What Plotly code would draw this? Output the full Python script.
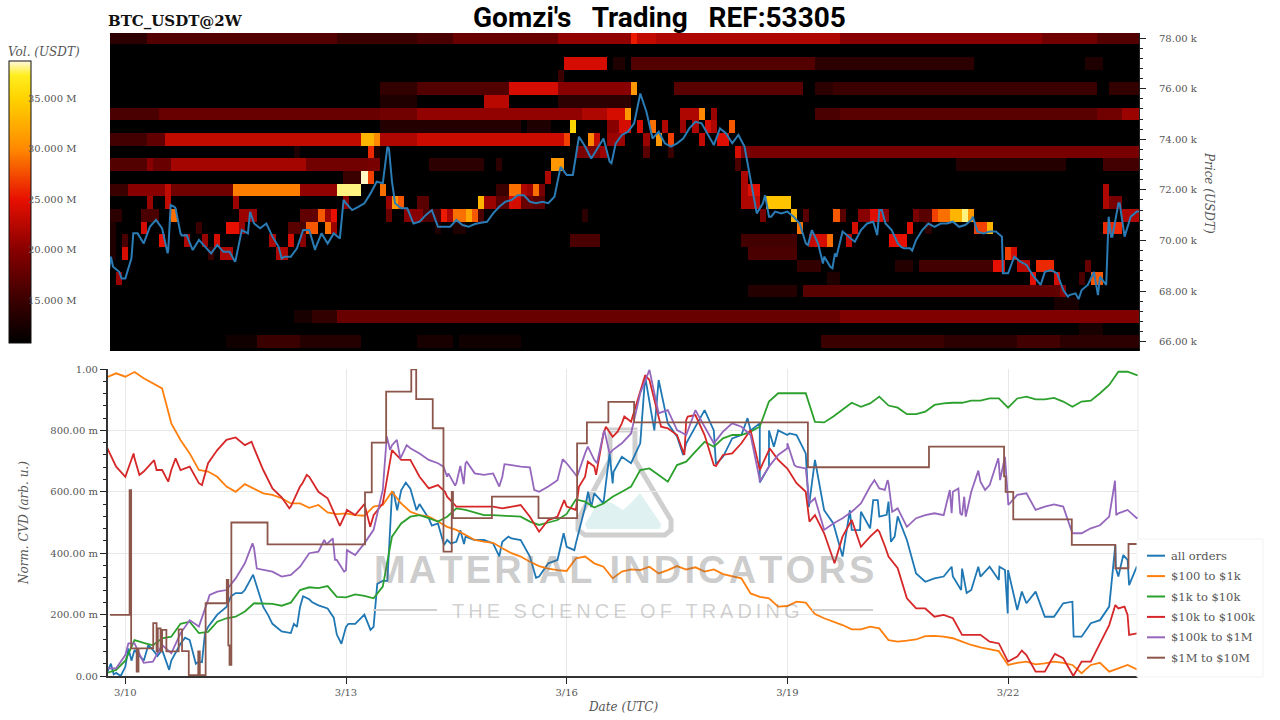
# BTC_USDT order book heatmap with normalized CVD per order size
import numpy as np
import pandas as pd
import plotly.graph_objects as go

WIDTH = 1280
HEIGHT = 720
START = pd.Timestamp("2024-03-10")

# x positions are hours since START
HEAT_HOURS = [-4 + 2 * i for i in range(168)]
HEAT_PRICES = [78 - 0.5 * i for i in range(26)]
Z_FLOOR = 10.8
Z_CEIL = 38.7

# order walls, (from hour, to hour, volume in M USDT)
ROW_780 = [(-5, 7, 14), (7, 70, 16.5), (70, 96, 15), (96, 108, 16), (108, 142, 18), (142, 166, 20.5),
           (166, 168, 25.5), (168, 174, 23), (174, 233, 22), (233, 300, 20), (300, 318, 18.5), (318, 331, 16.5)]
ROW_770 = [(144, 158, 24), (160, 164, 13), (166, 226, 16.5), (226, 277, 14), (313, 320, 13)]
ROW_765 = [(142, 144, 15)]
ROW_760 = [(84, 96, 14.5), (96, 126, 16.5), (126, 142, 24), (142, 166, 20), (166, 168, 31), (180, 222, 17),
           (226, 232, 14), (232, 318, 15), (322, 331, 14.5)]
ROW_755 = [(84, 96, 13), (118, 126, 22.5), (142, 166, 14)]
ROW_750 = [(-5, 11, 16), (11, 84, 18), (84, 96, 18.5), (96, 150, 20.5), (150, 158, 22), (158, 164, 24),
           (164, 166, 31), (182, 188, 22), (188, 190, 30), (192, 194, 21), (226, 233, 16), (233, 318, 17),
           (318, 325, 18.5), (325, 331, 21)]
ROW_745 = [(84, 130, 13.5), (132, 140, 13), (146, 148, 35), (158, 162, 20), (162, 166, 24), (168, 170, 24),
           (172, 174, 29), (176, 178, 22), (182, 184, 21), (186, 188, 22), (190, 192, 24), (192, 194, 22),
           (198, 200, 28)]
ROW_740 = [(-5, 7, 15.5), (7, 13, 17.5), (13, 78, 23), (78, 82, 33), (82, 84, 30), (84, 96, 22), (96, 144, 23.5),
           (144, 146, 27), (152, 154, 30), (154, 156, 23), (158, 164, 21), (170, 172, 21), (174, 176, 31),
           (178, 180, 27), (188, 190, 23), (194, 198, 24.5)]
ROW_735 = [(55, 57, 13), (80, 82, 26), (82, 84, 13), (148, 156, 19), (156, 158, 21), (170, 172, 17), (178, 180, 15),
           (200, 202, 24), (202, 331, 19)]
ROW_730 = [(-5, 7, 16.5), (7, 9, 20), (9, 15, 18), (15, 60, 21.5), (60, 80, 18.5), (80, 84, 19), (99, 118, 14),
           (122, 124, 14), (140, 144, 31), (200, 202, 16), (271, 308, 13.5), (319, 331, 15.5)]
ROW_725 = [(72, 78, 15), (78, 80, 38.5), (80, 82, 27), (138, 140, 22), (202, 204, 22)]
ROW_720 = [(-5, 1, 15), (1, 13, 20), (13, 15, 23), (15, 36, 18.5), (36, 58, 29.5), (58, 70, 20.5), (70, 78, 38),
           (84, 86, 29), (122, 126, 15), (126, 130, 29), (130, 132, 22), (132, 134, 21), (134, 136, 29),
           (136, 138, 19), (202, 204, 22), (204, 208, 24.5), (320, 322, 22)]
ROW_715 = [(7, 9, 21), (13, 15, 23), (36, 38, 21), (72, 74, 20), (86, 88, 21), (88, 90, 31), (90, 92, 28),
           (96, 100, 17), (116, 118, 33), (118, 122, 21), (122, 126, 17), (126, 130, 24), (130, 134, 18),
           (134, 138, 17), (202, 206, 22), (206, 208, 23), (210, 218, 34), (320, 322, 22), (322, 326, 19)]
ROW_710 = [(-5, -1, 14), (5, 11, 16), (15, 17, 29), (38, 44, 21), (58, 64, 17.5), (64, 66, 28), (66, 68, 21),
           (68, 70, 25), (86, 88, 18), (92, 98, 20), (98, 104, 16), (104, 106, 25.5), (106, 108, 22),
           (108, 112, 29), (112, 114, 32), (114, 116, 28), (116, 118, 16), (150, 152, 14), (208, 210, 19),
           (218, 220, 33), (222, 224, 17), (232, 234, 28), (234, 236, 17), (240, 244, 20), (244, 248, 24.5),
           (248, 250, 20), (258, 260, 19), (260, 264, 17), (264, 266, 27), (266, 270, 29), (270, 274, 33),
           (274, 276, 38), (276, 278, 31), (326, 331, 22)]
ROW_705 = [(-5, -3, 13), (5, 7, 24), (23, 25, 15), (34, 38, 25), (38, 40, 21), (54, 58, 17), (58, 60, 16),
           (60, 64, 28), (66, 68, 29), (68, 70, 21), (102, 104, 13), (108, 112, 13), (220, 222, 29), (238, 240, 24),
           (256, 258, 24.5), (262, 264, 14), (278, 282, 27), (282, 284, 33), (319, 325, 26)]
ROW_700 = [(-5, -3, 13), (-1, 1, 16), (11, 13, 25), (19, 21, 22), (25, 27, 21), (29, 31, 24), (47, 49, 22),
           (53, 55, 24), (58, 60, 20), (146, 156, 16), (202, 219, 15.5), (224, 226, 23), (226, 230, 24),
           (230, 232, 29), (236, 238, 23), (250, 256, 25)]
ROW_695 = [(-5, -3, 13), (-1, 1, 24), (27, 29, 15), (31, 35, 22), (49, 53, 22), (204, 219, 16), (287, 289, 27),
           (289, 291, 24)]
ROW_690 = [(219, 227, 14.5), (252, 258, 13.5), (260, 283, 15.5), (283, 287, 25), (291, 295, 22.5), (297, 303, 26),
           (313, 315, 18)]
ROW_685 = [(-3, -1, 21), (229, 233, 13), (295, 297, 25), (303, 305, 24), (311, 313, 16), (315, 319, 28)]
ROW_680 = [(204, 219, 13.5), (222, 234, 17), (234, 305, 17.5), (305, 307, 20)]
ROW_675 = [(303, 311, 12.5)]
ROW_670 = [(56, 62, 12.5), (62, 70, 14.5), (70, 234, 18), (234, 331, 19.5)]
ROW_665 = [(311, 319, 12.5)]
ROW_660 = [(33, 43, 12), (43, 57, 15), (57, 77, 13.5), (96, 107, 12.5), (109, 130, 12), (227, 268, 15),
           (268, 292, 14), (292, 305, 15.5), (305, 331, 14)]

VOL_TICKS = [15, 20, 25, 30, 35]
VOL_LABELS = ["15.000 M", "20.000 M", "25.000 M", "30.000 M", "35.000 M"]
PRICE_TICKS = [66, 68, 70, 72, 74, 76, 78]
PRICE_LABELS = ["66.00 k", "68.00 k", "70.00 k", "72.00 k", "74.00 k", "76.00 k", "78.00 k"]
CVD_TICKS = [0, 0.2, 0.4, 0.6, 0.8, 1.0]
CVD_LABELS = ["0.00", "200.00 m", "400.00 m", "600.00 m", "800.00 m", "1.00"]
DATE_TICKS = ["2024-03-10", "2024-03-13", "2024-03-16", "2024-03-19", "2024-03-22"]
DATE_LABELS = ["3/10", "3/13", "3/16", "3/19", "3/22"]

# price line, every 2 hours from hour -6
PRICE = [68.24, 68.96, 68.76, 68.50, 69.29, 70.28, 69.88, 70.54, 70.81, 70.48, 69.62, 71.33, 70.28, 70.21, 69.62,
         70.02, 69.75, 69.49, 69.82, 69.55, 69.55, 69.23, 70.41, 70.28, 70.67, 70.48, 70.67, 70.15, 69.75, 69.36,
         69.36, 69.69, 70.41, 70.41, 69.69, 70.28, 69.88, 70.28, 70.08, 71.47, 71.20, 71.33, 71.47, 71.86, 72.32,
         72.26, 73.64, 71.47, 71.27, 71.27, 70.67, 70.74, 71.00, 71.20, 70.54, 70.54, 70.54, 70.81, 70.61, 70.54,
         70.65, 70.70, 70.74, 71.07, 71.33, 71.53, 71.60, 71.79, 71.79, 71.53, 71.47, 71.53, 71.47, 71.73, 72.91,
         72.59, 72.59, 74.10, 73.71, 73.24, 73.64, 74.03, 73.11, 73.84, 74.17, 74.30, 74.63, 75.81, 75.09, 74.03,
         74.30, 73.84, 73.71, 73.84, 74.03, 74.43, 74.69, 74.63, 74.17, 73.77, 74.43, 74.23, 73.84, 74.17, 73.71,
         72.32, 71.07, 71.47, 70.94, 71.14, 71.07, 71.14, 70.94, 70.67, 69.88, 70.41, 69.88, 69.36, 68.96, 69.36,
         70.35, 70.15, 69.95, 70.41, 70.67, 70.74, 71.20, 70.67, 70.41, 69.88, 69.69, 69.69, 70.02, 70.41, 70.67,
         70.54, 70.67, 70.67, 70.74, 70.54, 70.61, 70.81, 70.35, 70.28, 70.35, 70.35, 70.15, 68.70, 69.36, 69.16,
         69.03, 68.63, 68.30, 68.76, 68.83, 68.70, 68.04, 67.84, 67.91, 68.04, 68.24, 68.76, 68.57, 68.24, 70.15,
         71.47, 70.15, 70.94, 71.14, 71.14]
# off-grid readings for the sharp moves
PRICE_X = [-4.7, -1.2, 2.6, 13.8, 14.8, 16.4, 18.4, 35.8, 40.7, 51, 61.9, 71.2, 85.5, 87, 158.6, 205.8, 208.7,
           210.7, 222.7, 227.6, 230.7, 231.5, 245.3, 246.8, 253, 256.7, 276.5, 286.3, 298.6, 307.5, 311, 317.3,
           320.8, 321.6, 324.4, 325.9]
PRICE_Y = [69.36, 68.5, 70.28, 69.49, 71.4, 71.27, 70.2, 69.16, 71.13, 69.29, 69.62, 71.6, 73.7, 72.32, 73.05,
           71.07, 71.79, 70.94, 69.82, 69.09, 68.9, 69.49, 70.21, 71.2, 69.75, 69.6, 70.94, 68.7, 68.24, 67.78,
           67.68, 67.84, 70.94, 70.15, 71.47, 70.2]

# normalized CVD, every 3 hours from hour -6
ALL_ORDERS = [.01, .01, .03, .085, .05, .085, .085, .05, .105, .117, .047, .16, .2, .225, .27, .28, .32, .225, .17,
              .145, .14, .225, .25, .23, .22, .135, .16, .17, .2, .16, .31, .595, .605, .61, .56,
              .513, .497, .443, .437, .454, .443, .443, .432, .437, .448, .443, .389, .324, .367, .378, .421, .432,
              .55, .595, .562, .627, .714, .693, .758, .888, .964, .823, .78, .758, .812, .866, .8, .714, .774,
              .785, .8, .823, .682, .8, .785, .785, .725, .704, .54, .497, .389,
              .476, .535, .481, .519, .568, .52, .443, .334, .307, .318, .324, .324, .35, .28, .324, .356, .313,
              .345, .215, .237, .275, .193, .193, .237, .242, .128, .172, .182, .226, .324, .378, .356, .313, .324]
ALL_ORDERS_X = [-4.7, -3.8, -1.5, 1, 2, 7.5, 10.5, 14.3, 19.5, 23, 25, 26, 34.5, 38, 41.7, 46.5, 55, 56, 58, 61,
                68, 70.5, 72.8, 80, 82.2, 85.5, 87.5, 88.7, 91.5, 95, 100, 104, 106.2, 109.3, 110.5, 122, 125, 134,
                143, 146.5, 151, 152, 158, 159.3, 169.6, 172.6, 182, 192.7, 203, 207, 210, 211.6, 216.7, 223,
                236.4, 239.7, 244, 245.5, 248.4, 249.8, 251, 269.6, 272.7, 274.5, 278.3, 285.2, 287, 287.9, 292.5,
                309.4, 323, 323.2, 325.6, 327.5]
ALL_ORDERS_Y = [.04, .005, 0, .09, .05, .1, .065, .02, .125, .04, .045, .14, .26, .27, .33, .2, .17, .16, .26, .24,
                .19, .105, .17, .15, .3, .31, .6, .54, .63, .54, .49, .427, .432, .475, .43, .39, .454, .32,
                .465, .41, .6, .55, .725, .665, .975, .8, .72, .69, .84, .63, .8, .747, .79, .55,
                .54, .475, .573, .573, .525, .437, .454, .356, .28, .27, .356, .356, .345, .204, .275,
                .128, .427, .35, .394, .296]

USD_100_1K = [.973, .986, .975, .99, .97, .953, .937, .823, .769, .725, .671, .666, .649, .617, .6, .625, .611, .595,
              .59, .579, .562, .562, .548, .557, .533, .527, .53, .524, .522, .552, .557, .6, .562, .535, .524,
              .519, .503, .486, .476, .459, .443, .438, .434, .416, .4, .389, .372, .358, .35, .345, .342, .383,
              .389, .367, .356, .318, .34, .347, .345, .356, .334, .345, .358, .347, .354, .34, .347, .332, .324,
              .318, .269, .258, .253, .226, .228, .242, .239, .202, .188, .177,
              .166, .152, .152, .161, .155, .117, .112, .115, .119, .13, .131, .128, .123, .112, .101, .093, .087,
              .081, .036, .043, .047, .038, .041, .047, .043, .036, .009, .036, .043, .014, .025, .036, .022, .025]
USD_1K_10K = [.01, .02, .05, .117, .108, .1, .123, .128, .17, .177, .14, .144, .177, .188, .193, .21, .237, .237,
              .235, .229, .239, .28, .289, .286, .293, .258, .256, .266, .261, .253, .291, .454, .497, .519, .524,
              .514, .503, .519, .546, .541, .532, .524, .524, .522, .521, .519, .503, .492, .5, .508, .528, .575,
              .568, .549, .562, .584, .6, .617, .671, .676, .655, .633, .687, .698, .731, .763, .747, .774, .785,
              .785, .796, .812, .894, .921, .921, .921, .921, .828, .826, .845,
              .867, .89, .877, .888, .91, .881, .874, .853, .853, .861, .883, .888, .89, .89, .897, .897, .904,
              .904, .874, .904, .91, .901, .901, .906, .894, .877, .894, .897, .921, .948, .991, .991, .98, .98]
USD_10K_100K = [.745, .682, .649, .709, .666, .698, .671, .671, .671, .682, .628, .693, .736, .769, .777, .752, .742,
                .671, .611, .582, .552, .617, .649, .6, .579, .508, .532, .524, .56, .524, .562, .736, .704, .704,
                .649,
                .611, .622, .584, .552, .552, .552, .554, .552, .546, .552, .557, .519, .47, .508, .519, .552, .541,
                .649, .682, .79, .779, .823, .828, .932, .964, .839, .807, .785, .834, .85, .785, .687, .72, .725,
                .758, .801, .671, .736, .704, .676, .628, .6, .524, .465, .378,
                .454, .508, .421, .454, .47, .389, .351, .253, .22, .22, .193, .199, .188, .134, .134, .134, .112,
                .106, .047, .063, .068, .014, .014, .068, .058, .003, .047, .047, .106, .166, .22, .199, .139, .15]
USD_10K_100K_X = [2.7, 4.6, 9.4, 10.2, 14, 16.4, 25, 41.2, 53.5, 57.8, 59.2, 70, 72.3, 79.9, 104.3, 143.2, 148,
                  150.9, 153.6, 156.8, 160.6, 162.8, 169.6, 174.8, 182.4, 183.5, 192.7, 210.2, 223.2, 231.4, 245.4,
                  247.9, 292.5, 303.3, 309.3, 323, 326, 327.5]
USD_10K_100K_Y = [.725, .655, .703, .671, .633, .709, .622, .763, .546, .628, .655, .489, .541, .486, .6, .573, .616,
                  .698, .655, .812, .796, .845, .98, .812, .72, .845, .684, .742, .503, .367, .476, .421, .083, .072,
                  0, .231, .226, .134]
USD_100K_1M = [.025, .025, .068, .106, .043, .047, .101, .074, .139, .182, .161, .248, .275, .28, .318, .367, .416,
               .345, .34, .324, .329, .356, .4, .405, .432, .378, .345, .394, .432, .476, .606, .752, .714, .742,
               .725,
               .704, .693, .649, .628, .693, .66, .655, .66, .649, .687, .682, .68, .6, .617, .638, .693, .655,
               .725, .704, .79, .736, .758, .79, .921, .997, .856, .866, .801, .785, .866, .812, .758, .796, .823,
               .812, .785, .638, .682, .72, .742, .682, .676, .579, .476, .497,
               .514, .535, .562, .617, .611, .628, .546, .486, .514, .524, .53, .524, .6, .524, .6, .633, .622,
               .693, .573, .59, .595, .541, .552, .559, .552, .465, .465, .481, .491, .519, .53, .541, .514, .53]
USD_100K_1M_X = [1, 27.5, 41.5, 42.9, 64.9, 65.7, 67.7, 68.4, 71.4, 72.3, 85.3, 86.4, 88.6, 89.7, 91.8, 103.8, 105.4,
                 107.6, 109.3, 110.4, 111.4, 122, 123.7, 133.4, 142.7, 147.4, 150.9, 153.9, 156.3, 158, 207, 216,
                 218.3, 223.2, 244.4, 247.8, 248.7, 250.2, 269, 269.6, 271.8, 272.4, 273.7, 274.2, 278.3, 280.5,
                 284.8, 285.4, 287, 288.1, 322.9, 323.3]
USD_100K_1M_Y = [.106, .264, .432, .35, .443, .427, .448, .378, .34, .41, .78, .736, .769, .709, .752, .682, .66,
                 .62, .684, .625, .698, .617, .69, .606, .706, .65, .747, .693, .8, .725, .633, .758,
                 .687, .562, .638, .606, .638, .535, .606, .53, .611, .53, .584, .519, .669, .606,
                 .709, .638, .714, .557, .636, .524]

# $1M to $10M holds flat between sparse updates, so it has its own change points
LARGE_HOURS = [-5, 1.4, 1.9, 3.7, 4.3, 9.1, 10.2, 10.6, 11.5, 12.0, 13.4, 17.4, 18.5, 20.7, 23.8, 24.3, 26.2,
               33.1, 33.6, 34.0, 34.6, 46.4, 78.2, 80.4, 85.1, 93.3, 94.9, 100.3, 103.8, 106.5, 106.9, 119.6, 134.8,
               147.4, 150.6, 157.6, 166, 222.7, 262.2, 286.7, 287.2, 288, 289.7, 308.8, 323, 327.3, 331]
LARGE_VALUES = [.199, .605, .09, .014, .09, .172, .08, .155, .08, .15, .08, .152, .081, .003, .08, .003, .237,
                .313, .1, .036, .5, .429, .598, .76, .926, .999, .902, .807, .405, .6, .514, .584, .514,
                .758, .826, .893, .826, .68, .747, .65, .6, .6, .51, .427, .351, .43, .43]

SERIES_NAMES = ["all orders", "$100 to $1k", "$1k to $10k", "$10k to $100k", "$100k to $1M", "$1M to $10M"]
SERIES_COLORS = ["#1f77b4", "#ff7f0e", "#2ca02c", "#d62728", "#9467bd", "#8c564b"]


def at_hours(hours):
    return START + pd.to_timedelta(hours, unit="h")


def merged(step, values, extra_x=(), extra_y=()):
    # grid readings plus the off-grid ones, in time order
    hours = np.concatenate([np.arange(len(values)) * step - 6.0, extra_x])
    ys = np.concatenate([values, extra_y])
    order = np.argsort(hours, kind="stable")
    return at_hours(hours[order]), ys[order]


# x, y below are pixels of the 1280x720 page
def px(x):
    return x / WIDTH


def py(y):
    return 1 - y / HEIGHT


def svg_path(points):
    parts = [f"{'M' if i == 0 else 'L'} {px(x):.5f} {py(y):.5f}" for i, (x, y) in enumerate(points)]
    return " ".join(parts) + " Z"


rows = [ROW_780, ROW_770, ROW_765, ROW_760, ROW_755, ROW_750, ROW_745, ROW_740, ROW_735, ROW_730, ROW_725,
        ROW_720, ROW_715, ROW_710, ROW_705, ROW_700, ROW_695, ROW_690, ROW_685, ROW_680, ROW_675, ROW_670,
        ROW_665, ROW_660]
row_prices = [78.0, 77.0, 76.5, 76.0, 75.5, 75.0, 74.5, 74.0, 73.5, 73.0, 72.5, 72.0, 71.5, 71.0, 70.5, 70.0, 69.5,
              69.0, 68.5, 68.0, 67.5, 67.0, 66.5, 66.0]
heat_hours = np.array(HEAT_HOURS)
z = np.full((len(HEAT_PRICES), len(HEAT_HOURS)), Z_FLOOR)
for price, row in zip(row_prices, rows):
    i = HEAT_PRICES.index(price)
    for h0, h1, vol in row:
        z[i, (heat_hours >= h0) & (heat_hours < h1)] = vol

colorscale = [[0, "#000000"], [0.15, "#3a0000"], [0.33, "#880000"], [0.51, "#e81000"], [0.69, "#ff8a00"],
              [0.87, "#ffd400"], [0.95, "#ffee20"], [1, "#fff8e0"]]

SERIF = "DejaVu Serif"
TEXT = "#555555"
TICK_FONT = dict(family=SERIF, size=10, color=TEXT)

fig = go.Figure()
fig.add_heatmap(
    x=at_hours(heat_hours), y=HEAT_PRICES, z=z, zmin=Z_FLOOR, zmax=Z_CEIL, colorscale=colorscale,
    xaxis="x", yaxis="y", showlegend=False,
    colorbar=dict(x=px(9), xanchor="left", y=py(60.7), yanchor="top", lenmode="pixels", len=282,
                  thickness=22, thicknessmode="pixels", xpad=0, ypad=0, outlinewidth=1, outlinecolor="#111111",
                  showticklabels=False, ticks=""),
)
price_x, price_y = merged(2, PRICE, PRICE_X, PRICE_Y)
fig.add_scatter(x=price_x, y=price_y, mode="lines", line=dict(color="#2b7bb5", width=2), xaxis="x", yaxis="y",
                showlegend=False)

cvd_series = [merged(3, ALL_ORDERS, ALL_ORDERS_X, ALL_ORDERS_Y), merged(3, USD_100_1K), merged(3, USD_1K_10K),
              merged(3, USD_10K_100K, USD_10K_100K_X, USD_10K_100K_Y), merged(3, USD_100K_1M, USD_100K_1M_X, USD_100K_1M_Y)]
for name, color, (xs, ys) in zip(SERIES_NAMES, SERIES_COLORS, cvd_series):
    fig.add_scatter(x=xs, y=ys, mode="lines", name=name, line=dict(color=color, width=1.8), xaxis="x2", yaxis="y2",
                    showlegend=False)
fig.add_scatter(x=at_hours(np.array(LARGE_HOURS)), y=LARGE_VALUES, mode="lines", name=SERIES_NAMES[5],
                line=dict(color=SERIES_COLORS[5], width=1.8, shape="hv"), xaxis="x2", yaxis="y2", showlegend=False)

annotations = [
    dict(text="<b>BTC_USDT@2W</b>", x=px(107), y=py(21), xanchor="left", yanchor="middle",
         font=dict(family=SERIF, size=15, color="#111111")),
    dict(text="<b>Gomzi's   Trading   REF:53305</b>", x=px(659), y=py(17), xanchor="center", yanchor="middle",
         font=dict(family="Roboto", size=28, color="#000000")),
    dict(text="<i>Vol. (USDT)</i>", x=px(44), y=py(52), xanchor="center", yanchor="middle",
         font=dict(family=SERIF, size=12, color=TEXT)),
    dict(text="<i>Price (USDT)</i>", x=px(1209), y=py(193), textangle=90, xanchor="center", yanchor="middle",
         font=dict(family=SERIF, size=12, color=TEXT)),
    dict(text="<i>Norm. CVD (arb. u.)</i>", x=px(24), y=py(523), textangle=-90, xanchor="center", yanchor="middle",
         font=dict(family=SERIF, size=12, color=TEXT)),
    dict(text="<i>Date (UTC)</i>", x=px(623), y=py(707), xanchor="center", yanchor="middle",
         font=dict(family=SERIF, size=12, color=TEXT)),
    # watermark
    dict(text="\u200a".join("MATERIAL INDICATORS"), x=px(623.5), y=py(570), xanchor="center", yanchor="middle",
         font=dict(family="Liberation Sans", size=38, color="rgba(110,110,110,0.36)", weight="bold")),
    dict(text="\u2009".join("THE SCIENCE OF TRADING"), x=px(625), y=py(611), xanchor="center", yanchor="middle",
         font=dict(family="Liberation Sans", size=20, color="rgba(110,110,110,0.33)")),
]
# colorbar labels sit partly over the bar in the reference, so they are placed by hand
for tick, label in zip(VOL_TICKS, VOL_LABELS):
    frac = (tick - Z_FLOOR) / (Z_CEIL - Z_FLOOR)
    annotations.append(dict(text=label, x=px(27), y=py(342.7 - frac * 282), xanchor="left", yanchor="middle",
                            font=TICK_FONT))

GREY = "#cfcfcf"
shapes = [
    dict(type="line", x0=px(1138), x1=px(1138), y0=py(369), y1=py(676), line=dict(color="#e8e8e8", width=1)),
    dict(type="line", x0=px(373), x1=px(437), y0=py(610), y1=py(610), line=dict(color=GREY, width=2)),
    dict(type="line", x0=px(812), x1=px(873), y0=py(610), y1=py(610), line=dict(color=GREY, width=2)),
    # flask, fill then outline
    dict(type="path", path=svg_path([(585, 524), (600, 500), (612, 503), (623, 510), (632, 502), (640, 493),
                                     (661, 524), (660, 529), (587, 529)]),
         fillcolor="#e0f1f2", line=dict(width=0), layer="below"),
    dict(type="path", path=svg_path([(610, 430), (610, 460), (578, 520), (578, 530), (585, 535), (665, 535),
                                     (671, 530), (671, 520), (635, 460), (635, 430)]),
         fillcolor="rgba(0,0,0,0)", line=dict(color=GREY, width=5), layer="below"),
    # legend box, plotly's own legend keys are too long here
    dict(type="rect", x0=px(1137), x1=px(1263), y0=py(677), y1=py(539), fillcolor="#ffffff",
         line=dict(color="#f3f3f3", width=1)),
]
for n, (name, color) in enumerate(zip(SERIES_NAMES, SERIES_COLORS)):
    row_y = 555.7 + n * 20.4
    shapes.append(dict(type="line", x0=px(1147), x1=px(1165), y0=py(row_y), y1=py(row_y),
                       line=dict(color=color, width=2)))
    annotations.append(dict(text=name, x=px(1169.5), y=py(row_y), xanchor="left", yanchor="middle",
                            font=dict(family=SERIF, size=11.5, color=TEXT)))

for a in annotations:
    a.update(xref="paper", yref="paper", showarrow=False, borderpad=0)
for s in shapes:
    s.update(xref="paper", yref="paper")

fig.update_layout(
    width=WIDTH, height=HEIGHT, margin=dict(l=0, r=0, t=0, b=0, autoexpand=False), autosize=False,
    paper_bgcolor="#ffffff", plot_bgcolor="#ffffff",
    font=dict(family=SERIF, size=11, color=TEXT),
    annotations=annotations, shapes=shapes,
    xaxis=dict(domain=[px(110), px(1139)], range=[at_hours(-5), at_hours(330.7)], visible=False),
    yaxis=dict(domain=[py(351), py(33)], range=[65.63, 78.2], side="right", anchor="x", tickmode="array",
               tickvals=PRICE_TICKS, ticktext=PRICE_LABELS, ticks="outside", ticklen=6, tickcolor="#222222",
               ticklabelstandoff=11, tickfont=TICK_FONT, showgrid=False, zeroline=False, showline=True,
               linecolor="#222222", linewidth=1,
               minor=dict(tickmode="linear", tick0=66, dtick=0.4, ticks="outside", ticklen=3, tickcolor="#222222")),
    xaxis2=dict(domain=[px(107.7), px(1138)], range=[at_hours(-5.75), at_hours(330.4)], anchor="y2",
                tickmode="array", tickvals=DATE_TICKS, ticktext=DATE_LABELS, ticks="outside", ticklen=6,
                tickcolor="#222222", tickfont=TICK_FONT, showgrid=True, gridcolor="#e8e8e8", zeroline=False,
                showline=True, linecolor="#333333", linewidth=1.5),
    yaxis2=dict(domain=[py(676), py(369)], range=[0, 1], anchor="x2", tickmode="array", tickvals=CVD_TICKS,
                ticktext=CVD_LABELS, ticks="outside", ticklen=6, tickcolor="#222222", tickfont=TICK_FONT,
                showgrid=True, gridcolor="#e8e8e8", zeroline=False, showline=True, linecolor="#333333", linewidth=1.5,
                minor=dict(tickmode="linear", tick0=0, dtick=0.04, ticks="outside", ticklen=3, tickcolor="#222222")),
)

# the page keeps the browser's body margin otherwise, which would push everything 8px in
fig.write_html("out.html", config={"displayModeBar": False}, post_script="document.body.style.margin = '0';")
